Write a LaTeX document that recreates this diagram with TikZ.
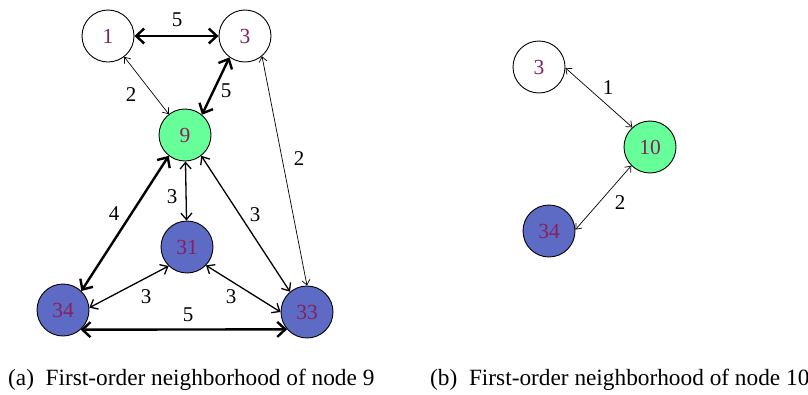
\documentclass[tikz,border=0pt]{standalone}
\usepackage{fontspec}
\setmainfont{Liberation Serif}
\usetikzlibrary{arrows.meta}
\definecolor{numc}{HTML}{86205E}
\definecolor{gfill}{HTML}{66FF99}
\definecolor{bfill}{HTML}{5D6BC4}
\begin{document}
\begin{tikzpicture}[x=1pt,y=-1pt,
  vtx/.style={circle,draw=black,line width=0.9pt,minimum size=52pt,inner sep=0pt,text=numc,font=\fontsize{21.5}{22}\selectfont},
  wnode/.style={vtx,fill=white},
  gnode/.style={vtx,fill=gfill},
  bnode/.style={vtx,fill=bfill},
  thinE/.style={line width=0.7pt,{Straight Barb[length=5pt,width=8pt]}-{Straight Barb[length=5pt,width=8pt]}},
  medE/.style={line width=1.3pt,{Straight Barb[length=6.5pt,width=11pt]}-{Straight Barb[length=6.5pt,width=11pt]}},
  thickE/.style={line width=2.4pt,{Straight Barb[length=8pt,width=15pt]}-{Straight Barb[length=8pt,width=15pt]}},
  lbl/.style={font=\fontsize{21}{22}\selectfont,inner sep=0pt},
  captxt/.style={font=\fontsize{23.3}{24}\selectfont,inner sep=0pt,anchor=base west}
]
\useasboundingbox (0,0) rectangle (808,394);
% (a)
\node[wnode] (a1) at (108,36) {1};
\node[wnode] (a3) at (245,36) {3};
\node[gnode] (a9) at (185,135) {9};
\node[bnode] (a31) at (187,247) {31};
\node[bnode] (a34) at (63,310) {34};
\node[bnode] (a33) at (307,312) {33};
\draw[thickE] (a1) -- (a3);
\draw[thinE] (a1) -- (a9);
\draw[thickE] (a3.-126) -- (a9.50);
\draw[thinE] (a3.-50) -- (a33.north);
\draw[thickE] (a9.-128) -- (a34.46);
\draw[medE] (a9) -- (a31);
\draw[medE] (a9.-52) -- (a33.130);
\draw[medE] (a31.-134) -- (a34.5);
\draw[medE] (a31.-44) -- (a33.180);
\draw[thickE] (a34.-48) -- (a33.-139);
\node[lbl] (l1) at (177,20) {5};
\node[lbl] (l2) at (131,95) {2};
\node[lbl] (l3) at (226,91) {5};
\node[lbl] (l4) at (299,159) {2};
\node[lbl] (l5) at (114,214) {4};
\node[lbl] (l6) at (172,197) {3};
\node[lbl] (l7) at (255,215) {3};
\node[lbl] (l8) at (146,297) {3};
\node[lbl] (l9) at (231,297) {3};
\node[lbl] (l10) at (188,315) {5};
% (b)
\node[wnode] (b3) at (539,67) {3};
\node[gnode] (b10) at (650,147) {10};
\node[bnode] (b34) at (549,231) {34};
\draw[thinE] (b3.-2) -- (b10.132);
\draw[thinE] (b10.-135) -- (b34.3);
\node[lbl] (l11) at (608,88) {1};
\node[lbl] (l12) at (620,203) {2};
% captions
\node[captxt] (capa) at (8,385) {(a)\ \ First-order neighborhood of node 9};
\node[captxt] (capb) at (430,385) {(b)\ \ First-order neighborhood of node 10};
\end{tikzpicture}
\end{document}
